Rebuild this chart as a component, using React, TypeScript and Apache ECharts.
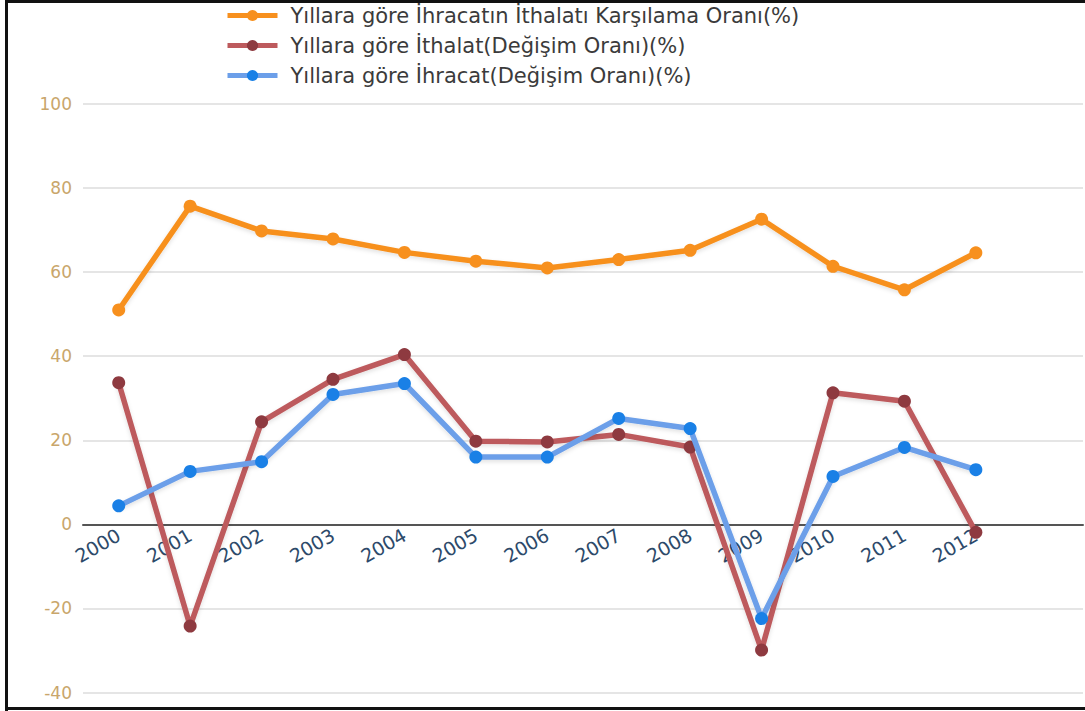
import React, { useEffect, useRef } from "react";
import * as echarts from "echarts";

const years = ["2000", "2001", "2002", "2003", "2004", "2005", "2006", "2007", "2008", "2009", "2010", "2011", "2012", ""];
const yTicks = [-40, -20, 0, 20, 40, 60, 80, 100];

const seriesNames = [
  "Yıllara göre İhracatın İthalatı Karşılama Oranı(%)",
  "Yıllara göre İthalat(Değişim Oranı)(%)",
  "Yıllara göre İhracat(Değişim Oranı)(%)",
];

const coverage = [51, 75.7, 69.8, 67.9, 64.7, 62.6, 61.0, 63.0, 65.2, 72.6, 61.4, 55.8, 64.6];
const importsChange = [33.7, -24.2, 24.4, 34.5, 40.4, 19.8, 19.6, 21.4, 18.4, -29.9, 31.3, 29.3, -1.9];
const exportsChange = [4.4, 12.6, 14.9, 30.9, 33.5, 16.0, 16.0, 25.2, 22.8, -22.4, 11.4, 18.3, 13.0];

const lineColors = ["#f7901e", "#bd5a5d", "#6c9fe9"];
const dotColors = ["#f7901e", "#8e3a40", "#1a80e6"];

const GRID_TOP = 104;
const GRID_BOTTOM = 18.5;
const CHART_H = 711;

export default function App() {
  const ref = useRef<HTMLDivElement>(null);
  useEffect(() => {
    if (!ref.current) return;
    const chart = echarts.init(ref.current, null, { renderer: "svg" });
    const datas = [coverage, importsChange, exportsChange];
    const yMin = yTicks[0];
    const yMax = yTicks[yTicks.length - 1];
    const gridH = CHART_H - GRID_TOP - GRID_BOTTOM;
    const zeroFromBottom = (gridH * (0 - yMin)) / (yMax - yMin);
    chart.setOption({
      animation: false,
      backgroundColor: "#ffffff",
      legend: {
        orient: "vertical",
        left: 220,
        top: 0,
        itemWidth: 50,
        itemHeight: 14,
        itemGap: 9,
        lineStyle: { width: 5 },
        textStyle: { fontFamily: "DejaVu Sans", fontSize: 21, color: "#3b3b3b", padding: [0, 0, 0, 8] },
        data: seriesNames,
      },
      grid: {
        left: 83,
        right: 2,
        top: GRID_TOP,
        bottom: GRID_BOTTOM,
        containLabel: false,
        outerBoundsMode: "none",
      },
      xAxis: [
        {
          type: "category",
          data: years,
          boundaryGap: true,
          axisLine: { onZero: true, lineStyle: { color: "#555", width: 2 } },
          axisTick: { show: false },
          axisLabel: { show: false },
          splitLine: { show: false },
        },
        {
          type: "category",
          data: years,
          boundaryGap: true,
          position: "bottom",
          offset: -zeroFromBottom,
          axisLine: { show: false, onZero: false },
          axisTick: { show: false },
          axisLabel: {
            rotate: 30,
            interval: 0,
            margin: 9,
            color: "#2d4a6a",
            fontFamily: "DejaVu Sans",
            fontSize: 19,
          },
          splitLine: { show: false },
        },
      ],
      yAxis: {
        type: "value",
        min: yMin,
        max: yMax,
        interval: 20,
        axisLine: { show: false },
        axisTick: { show: false },
        axisLabel: { color: "#c9a66b", fontFamily: "DejaVu Sans", fontSize: 17, margin: 11 },
        splitLine: { lineStyle: { color: "#dcdcdc", width: 1.5 } },
      },
      graphic: [
        { type: "rect", shape: { x: 5, y: 0, width: 3, height: 711 }, style: { fill: "#111" }, z: 100 },
        { type: "rect", shape: { x: 5, y: 0, width: 1080, height: 3 }, style: { fill: "#111" }, z: 100 },
        { type: "rect", shape: { x: 5, y: 707, width: 1080, height: 3 }, style: { fill: "#111" }, z: 100 },
      ],
      series: seriesNames.map((name, i) => ({
        name,
        type: "line",
        xAxisIndex: 0,
        data: datas[i],
        symbol: "circle",
        symbolSize: 13,
        lineStyle: {
          color: lineColors[i],
          width: 5.5,
          shadowColor: "rgba(0,0,0,0.12)",
          shadowBlur: 4,
          shadowOffsetY: 2,
        },
        itemStyle: { color: dotColors[i] },
        z: 2 + i,
      })),
    });
    return () => chart.dispose();
  }, []);
  return (
    <div
      ref={ref}
      style={{ position: "fixed", left: 0, top: 0, width: 1085, height: 711 }}
    />
  );
}
